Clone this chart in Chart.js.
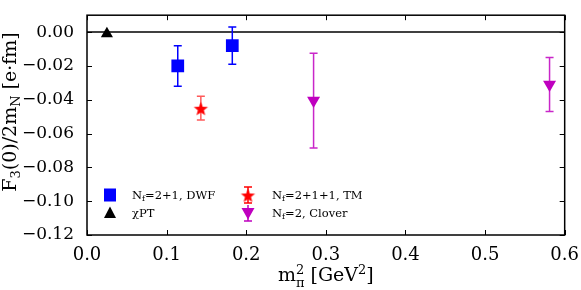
<!DOCTYPE html>
<html>
<head>
<meta charset="utf-8">
<script src="https://cdn.jsdelivr.net/npm/chart.js@4"></script>
<style>
  html, body { margin: 0; padding: 0; background: #fff; }
  #wrap { width: 581px; height: 290px; }
</style>
</head>
<body>
<div id="wrap"><canvas id="myChart"></canvas></div>
<script>
// data
var dwfX = [0.114, 0.1825];
var dwfY = [-0.020, -0.008];
var dwfErr = [0.012, 0.011];
var tmX = [0.143];
var tmY = [-0.045];
var tmErr = [0.007];
var cloverX = [0.2846, 0.581];
var cloverY = [-0.0405, -0.031];
var cloverErr = [0.028, 0.016];
var chptX = [0.025];
var chptY = [-0.001];

var xTicks = [0.0, 0.1, 0.2, 0.3, 0.4, 0.5, 0.6];
var yTicks = [-0.12, -0.10, -0.08, -0.06, -0.04, -0.02, 0.00];

var FONT = "'DejaVu Serif', serif";
var BLUE = "#0000ff", RED = "#ff0000", MAG = "#bf00bf";

function pts(xs, ys) {
  return xs.map(function (x, i) { return { x: x, y: ys[i] }; });
}

// filled five point star, like the matplotlib '*' marker
function makeStar(r, color) {
  var c = document.createElement("canvas");
  var s = Math.ceil(r * 2 + 2);
  c.width = s; c.height = s;
  var g = c.getContext("2d");
  g.fillStyle = color;
  g.beginPath();
  for (var i = 0; i < 10; i++) {
    var a = -Math.PI / 2 + i * Math.PI / 5;
    var rr = i % 2 === 0 ? r : r * 0.42;
    g.lineTo(s / 2 + rr * Math.cos(a), s / 2 + 1 + rr * Math.sin(a));
  }
  g.closePath();
  g.fill();
  return c;
}
var starImg = makeStar(7.5, RED);

// text with sub / superscripts
function drawParts(ctx, parts, x, y, size, align) {
  var small = Math.round(size * 0.7);
  var w = 0, i;
  var widths = [];
  for (i = 0; i < parts.length; i++) {
    var p = parts[i];
    ctx.font = (p.s ? small : size) + "px " + FONT;
    var pw = ctx.measureText(p.t).width;
    if (p.s2) {
      ctx.font = small + "px " + FONT;
      pw = Math.max(pw, ctx.measureText(p.s2).width);
    }
    widths.push(pw);
    w += pw;
  }
  var cx = align === "center" ? x - w / 2 : x;
  ctx.textBaseline = "alphabetic";
  ctx.textAlign = "left";
  for (i = 0; i < parts.length; i++) {
    var p2 = parts[i];
    var dy = 0;
    if (p2.s === "sub") dy = size * 0.2;
    if (p2.s === "sup") dy = -size * 0.38;
    ctx.font = (p2.s ? small : size) + "px " + FONT;
    ctx.fillText(p2.t, cx, y + dy);
    if (p2.s2) {
      ctx.fillText(p2.s2, cx, y + size * 0.3);
    }
    cx += widths[i];
  }
}

function marker(ctx, kind, x, y) {
  ctx.save();
  if (kind === "square") {
    ctx.fillStyle = BLUE;
    ctx.fillRect(x - 6, y - 6.5, 12, 13);
  } else if (kind === "tri") {
    ctx.fillStyle = "#000";
    ctx.beginPath();
    ctx.moveTo(x, y - 6.5); ctx.lineTo(x + 6, y + 5); ctx.lineTo(x - 6, y + 5);
    ctx.closePath(); ctx.fill();
  } else if (kind === "down") {
    ctx.fillStyle = MAG;
    ctx.beginPath();
    ctx.moveTo(x, y + 6.5); ctx.lineTo(x + 6.5, y - 5); ctx.lineTo(x - 6.5, y - 5);
    ctx.closePath(); ctx.fill();
    ctx.strokeStyle = MAG; ctx.lineWidth = 1.5;
    ctx.beginPath(); ctx.moveTo(x, y - 8); ctx.lineTo(x, y + 8);
    ctx.moveTo(x - 4, y + 8); ctx.lineTo(x + 4, y + 8); ctx.stroke();
  } else if (kind === "star") {
    ctx.strokeStyle = RED; ctx.lineWidth = 1.5;
    ctx.beginPath(); ctx.moveTo(x, y - 8); ctx.lineTo(x, y + 8);
    ctx.moveTo(x - 4, y - 8); ctx.lineTo(x + 4, y - 8);
    ctx.moveTo(x - 4, y + 8); ctx.lineTo(x + 4, y + 8); ctx.stroke();
    ctx.drawImage(starImg, x - starImg.width / 2, y - starImg.height / 2);
  }
  ctx.restore();
}

var framePlugin = {
  id: "frame",
  beforeDatasetsDraw: function (chart) {
    var ctx = chart.ctx, a = chart.chartArea;
    var ys = chart.scales.y;
    ctx.save();
    // zero line
    ctx.strokeStyle = "#000";
    ctx.lineWidth = 1.5;
    var y0 = ys.getPixelForValue(0);
    ctx.beginPath(); ctx.moveTo(a.left, y0); ctx.lineTo(a.right, y0); ctx.stroke();
    // error bars
    chart.data.datasets.forEach(function (ds, di) {
      if (!ds.errors) return;
      var meta = chart.getDatasetMeta(di);
      ctx.strokeStyle = ds.errColor;
      ctx.lineWidth = 1.5;
      ds.data.forEach(function (p, i) {
        var px = meta.data[i].x;
        var top = ys.getPixelForValue(p.y + ds.errors[i]);
        var bot = ys.getPixelForValue(p.y - ds.errors[i]);
        ctx.beginPath();
        ctx.moveTo(px, top); ctx.lineTo(px, bot);
        ctx.moveTo(px - 4, top); ctx.lineTo(px + 4, top);
        ctx.moveTo(px - 4, bot); ctx.lineTo(px + 4, bot);
        ctx.stroke();
      });
    });
    ctx.restore();
  },
  afterDraw: function (chart) {
    var ctx = chart.ctx, a = chart.chartArea;
    var xs = chart.scales.x, ys = chart.scales.y;
    ctx.save();
    ctx.strokeStyle = "#000";
    ctx.lineWidth = 1;
    ctx.beginPath();
    xTicks.forEach(function (v) {
      var px = Math.round(xs.getPixelForValue(v)) + 0.5;
      ctx.moveTo(px, a.bottom); ctx.lineTo(px, a.bottom - 5);
      ctx.moveTo(px, a.top); ctx.lineTo(px, a.top + 5);
    });
    yTicks.forEach(function (v) {
      var py = Math.round(ys.getPixelForValue(v)) + 0.5;
      ctx.moveTo(a.left, py); ctx.lineTo(a.left + 5, py);
      ctx.moveTo(a.right, py); ctx.lineTo(a.right - 5, py);
    });
    ctx.stroke();
    ctx.lineWidth = 1.5;
    ctx.strokeRect(a.left, a.top, a.right - a.left, a.bottom - a.top);

    // legend
    ctx.fillStyle = "#000";
    marker(ctx, "square", 110, 195);
    drawParts(ctx, [{ t: "N" }, { t: "f", s: "sub" }, { t: "=2+1, DWF" }], 132, 199, 11.5);
    marker(ctx, "tri", 110, 213);
    drawParts(ctx, [{ t: "\u03c7PT" }], 132, 217, 11.5);
    marker(ctx, "star", 248, 195);
    drawParts(ctx, [{ t: "N" }, { t: "f", s: "sub" }, { t: "=2+1+1, TM" }], 272, 199, 11.5);
    marker(ctx, "down", 248, 213);
    drawParts(ctx, [{ t: "N" }, { t: "f", s: "sub" }, { t: "=2, Clover" }], 272, 217, 11.5);

    // axis titles
    drawParts(ctx, [{ t: "m" }, { t: "2", s: "sup", s2: "\u03c0" }, { t: " [GeV" }, { t: "2", s: "sup" }, { t: "]" }],
      (a.left + a.right) / 2, 281, 19, "center");
    ctx.translate(16, 112);
    ctx.rotate(-Math.PI / 2);
    drawParts(ctx, [{ t: "F" }, { t: "3", s: "sub" }, { t: "(0)/2m" }, { t: "N", s: "sub" }, { t: " [e\u00b7fm]" }],
      0, 0, 19, "center");
    ctx.restore();
  }
};

var ctx = document.getElementById("myChart").getContext("2d");
var myChart = new Chart(ctx, {
  type: "scatter",
  data: {
    datasets: [
      { label: "Nf=2+1, DWF", data: pts(dwfX, dwfY), errors: dwfErr, errColor: BLUE,
        pointStyle: "rect", pointRadius: 9, backgroundColor: BLUE, borderWidth: 0 },
      { label: "Nf=2+1+1, TM", data: pts(tmX, tmY), errors: tmErr, errColor: "rgba(255,0,0,0.65)",
        pointStyle: starImg, backgroundColor: RED, borderWidth: 0 },
      { label: "Nf=2, Clover", data: pts(cloverX, cloverY), errors: cloverErr, errColor: "rgba(191,0,191,0.85)",
        pointStyle: "triangle", rotation: 180, pointRadius: 7.5, backgroundColor: MAG, borderWidth: 0 },
      { label: "\u03c7PT", data: pts(chptX, chptY),
        pointStyle: "triangle", pointRadius: 7, backgroundColor: "#000", borderWidth: 0 }
    ]
  },
  options: {
    responsive: true,
    maintainAspectRatio: false,
    animation: false,
    layout: { padding: { left: 0, right: 14, top: 2, bottom: 0 } },
    plugins: { legend: { display: false }, tooltip: { enabled: false } },
    scales: {
      x: {
        type: "linear", min: 0, max: 0.6,
        grid: { display: false }, border: { display: false },
        afterBuildTicks: function (s) { s.ticks = xTicks.map(function (v) { return { value: v }; }); },
        afterFit: function (s) { s.height = 55; },
        ticks: {
          padding: 2, color: "#000", font: { family: FONT, size: 18 }, maxRotation: 0,
          callback: function (v) { return v.toFixed(1); }
        }
      },
      y: {
        type: "linear", min: -0.12, max: 0.01,
        grid: { display: false }, border: { display: false },
        afterBuildTicks: function (s) { s.ticks = yTicks.map(function (v) { return { value: v }; }); },
        afterFit: function (s) { s.width = 87; },
        ticks: {
          padding: 5, color: "#000", font: { family: FONT, size: 17 },
          callback: function (v) { var t = Math.abs(v).toFixed(2); return v < -1e-9 ? "\u2212" + t : t; }
        }
      }
    }
  },
  plugins: [framePlugin]
});
</script>
</body>
</html>
